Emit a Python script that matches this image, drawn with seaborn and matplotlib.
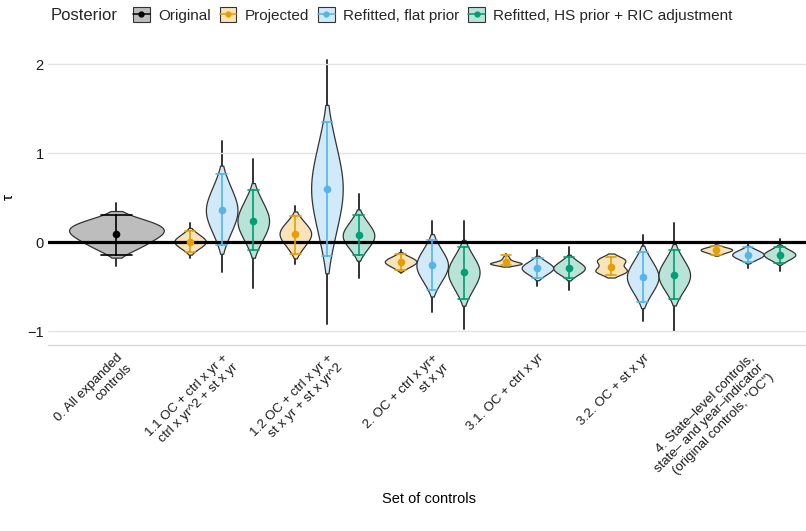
import numpy as np
import pandas as pd
import matplotlib
matplotlib.use("Agg")
import matplotlib.pyplot as plt
import matplotlib.colors as mcolors
import seaborn as sns
from matplotlib.patches import Patch
from matplotlib.lines import Line2D
from matplotlib.legend_handler import HandlerTuple

# ---------------- data ----------------
categories = [
    "0. All expanded\ncontrols",
    "1.1 OC + ctrl x yr +\nctrl x yr^2 + st x yr",
    "1.2 OC + ctrl x yr +\nst x yr + st x yr^2",
    "2. OC + ctrl x yr+\nst x yr",
    "3.1. OC + ctrl x yr",
    "3.2. OC + st x yr",
    "4. State\u2013level controls,\nstate\u2013 and year\u2013indicator\n(original controls, \"OC\")",
]
posteriors = ["Original", "Projected", "Refitted, flat prior",
              "Refitted, HS prior + RIC adjustment"]

# one entry per violin
violin_category = [0, 1, 1, 1, 2, 2, 2, 3, 3, 3, 4, 4, 4, 5, 5, 5, 6, 6, 6]
violin_posterior = [0, 1, 2, 3, 1, 2, 3, 1, 2, 3, 1, 2, 3, 1, 2, 3, 1, 2, 3]

point_est = [0.09, 0.007, 0.36, 0.24, 0.09, 0.60, 0.075, -0.22, -0.26, -0.34,
             -0.225, -0.29, -0.29, -0.28, -0.39, -0.37, -0.087, -0.14, -0.14]
interval_lo = [-0.15, -0.11, -0.03, -0.09, -0.13, -0.16, -0.15, -0.31, -0.54, -0.64,
               -0.255, -0.40, -0.40, -0.37, -0.67, -0.64, -0.14, -0.22, -0.23]
interval_hi = [0.30, 0.13, 0.76, 0.58, 0.29, 1.35, 0.31, -0.135, 0.02, -0.05,
               -0.15, -0.18, -0.17, -0.17, -0.11, -0.09, -0.04, -0.06, -0.05]
tail_lo = [-0.27, -0.18, -0.34, -0.52, -0.25, -0.92, -0.40, -0.35, -0.79, -0.97,
           -0.27, -0.49, -0.54, -0.39, -0.88, -1.00, -0.15, -0.29, -0.32]
tail_hi = [0.44, 0.21, 1.14, 0.93, 0.41, 2.04, 0.54, -0.09, 0.24, 0.24,
           -0.135, -0.09, -0.06, -0.14, 0.08, 0.22, -0.03, 0.007, 0.04]

posterior_quantiles = [
    [-0.085, -0.025, 0.025, 0.065, 0.095, 0.125, 0.155, 0.185, 0.215, 0.26],
    [-0.091, -0.055, -0.033, -0.016, 0.0, 0.015, 0.031, 0.049, 0.072, 0.110],
    [0.033, 0.154, 0.226, 0.284, 0.335, 0.386, 0.438, 0.498, 0.572, 0.696],
    [-0.037, 0.065, 0.126, 0.175, 0.219, 0.262, 0.307, 0.357, 0.420, 0.525],
    [-0.095, -0.026, 0.014, 0.047, 0.076, 0.103, 0.129, 0.159, 0.196, 0.258],
    [-0.038, 0.198, 0.339, 0.451, 0.551, 0.648, 0.747, 0.858, 0.997, 1.229],
    [-0.114, -0.044, -0.002, 0.031, 0.061, 0.090, 0.121, 0.156, 0.199, 0.272],
    [-0.296, -0.268, -0.251, -0.238, -0.226, -0.215, -0.203, -0.191, -0.175, -0.149],
    [-0.495, -0.408, -0.356, -0.315, -0.278, -0.242, -0.205, -0.164, -0.112, -0.025],
    [-0.592, -0.499, -0.443, -0.399, -0.359, -0.321, -0.283, -0.240, -0.187, -0.097],
    [-0.252, -0.248, -0.245, -0.242, -0.239, -0.235, -0.228, -0.215, -0.195, -0.165],
    [-0.382, -0.348, -0.328, -0.312, -0.297, -0.283, -0.268, -0.252, -0.232, -0.198],
    [-0.382, -0.348, -0.328, -0.312, -0.297, -0.282, -0.266, -0.249, -0.227, -0.189],
    [-0.345, -0.335, -0.325, -0.315, -0.300, -0.250, -0.215, -0.205, -0.195, -0.180],
    [-0.625, -0.538, -0.486, -0.445, -0.408, -0.372, -0.335, -0.294, -0.242, -0.155],
    [-0.597, -0.513, -0.463, -0.423, -0.387, -0.352, -0.315, -0.274, -0.222, -0.135],
    [-0.131, -0.115, -0.105, -0.097, -0.090, -0.084, -0.078, -0.071, -0.062, -0.047],
    [-0.207, -0.182, -0.168, -0.156, -0.145, -0.135, -0.124, -0.112, -0.098, -0.073],
    [-0.216, -0.188, -0.171, -0.158, -0.146, -0.134, -0.122, -0.109, -0.092, -0.064],
]

x_title = "Set of controls"
y_title = "\u03c4"
legend_title = "Posterior"

# ---------------- styling ----------------
line_colors = ["#000000", "#E69F00", "#56B4E9", "#009E73"]


def lighten(c, a=0.28):
    r, g, b = mcolors.to_rgb(c)
    return (1 - a + a * r, 1 - a + a * g, 1 - a + a * b)


fill_colors = [lighten(c) for c in line_colors]
fill_colors[0] = (0.74, 0.74, 0.74)
edge = "#333333"

# ---------------- long tables ----------------
draw_rows, int_rows, tail_rows = [], [], []
for i in range(len(violin_category)):
    cat = categories[violin_category[i]]
    post = posteriors[violin_posterior[i]]
    for v in posterior_quantiles[i]:
        draw_rows.append((cat, post, v))
    for v in (interval_lo[i], point_est[i], interval_hi[i]):
        int_rows.append((cat, post, v))
    for v in (tail_lo[i], tail_hi[i]):
        tail_rows.append((cat, post, v))
cols = ["category", "posterior", "value"]
draws = pd.DataFrame(draw_rows, columns=cols)
ints = pd.DataFrame(int_rows, columns=cols)
tails = pd.DataFrame(tail_rows, columns=cols)

orig = posteriors[0]
others = posteriors[1:]

sns.set_theme(style="white")
plt.rcParams["font.family"] = ["Liberation Sans", "DejaVu Sans"]

fig = plt.figure(figsize=(8.06, 5.31), dpi=100)
W, H = 806, 531
ax = fig.add_axes([48 / W, 1 - 345 / H, (809 - 48) / W, (345 - 48) / H])

minmax = lambda v: (v.min(), v.max())

# tails (thin dark lines beneath violins)
sns.pointplot(data=tails[tails.posterior == orig], x="category", y="value",
              order=categories, color=edge, estimator="median", errorbar=minmax,
              markers="", linestyle="none", err_kws={"linewidth": 1.4, "zorder": 0.5},
              ax=ax)
sns.pointplot(data=tails[tails.posterior != orig], x="category", y="value",
              hue="posterior", hue_order=others, order=categories,
              palette=[edge] * 3, estimator="median", errorbar=minmax,
              dodge=0.6, markers="", linestyle="none",
              err_kws={"linewidth": 1.4, "zorder": 0.5}, legend=False, ax=ax)

# violins
sns.violinplot(data=draws[draws.posterior == orig], x="category", y="value",
               order=categories, color=fill_colors[0], saturation=1,
               width=0.9, density_norm="width", inner=None, cut=1.3, bw_adjust=1.0,
               linecolor=edge, linewidth=0.9, ax=ax)
sns.violinplot(data=draws[draws.posterior != orig], x="category", y="value",
               hue="posterior", hue_order=others, order=categories,
               palette=fill_colors[1:], saturation=1, width=0.9, dodge=True,
               density_norm="width", inner=None, cut=1.3, bw_adjust=1.0,
               linecolor=edge, linewidth=0.9, legend=False, ax=ax)
for coll in ax.collections:
    coll.set_zorder(1)

ax.axhline(0, color="black", linewidth=2.3, zorder=2)

# point + interval
sns.pointplot(data=ints[ints.posterior == orig], x="category", y="value",
              order=categories, color=line_colors[0], estimator="median",
              errorbar=minmax, markers="o", linestyle="none", capsize=0.29,
              markersize=5.5, markeredgewidth=0,
              err_kws={"linewidth": 1.2, "zorder": 3}, zorder=4, ax=ax)
sns.pointplot(data=ints[ints.posterior != orig], x="category", y="value",
              hue="posterior", hue_order=others, order=categories,
              palette=line_colors[1:], estimator="median", errorbar=minmax,
              dodge=0.6, markers="o", linestyle="none", capsize=0.1,
              markersize=5.5, markeredgewidth=0,
              err_kws={"linewidth": 1.2, "zorder": 3},
              zorder=4, legend=False, ax=ax)

# ---------------- axes cosmetics ----------------
ax.set_xlim(-0.65, 6.58)
ax.set_ylim(-1.155, 2.18)
ax.set_yticks([-1, 0, 1, 2])
ax.set_yticklabels(["\u22121", "0", "1", "2"])
ax.set_xticks(range(len(categories)))
ax.set_xticklabels(categories, rotation=45, ha="right", va="top",
                   rotation_mode="anchor", fontsize=9.5, color="#1a1a1a")
ax.tick_params(axis="x", length=3, color="#d9d9d9", width=1, pad=2)
ax.tick_params(axis="y", length=0, pad=3, labelsize=10.5, labelcolor="#1a1a1a")
ax.grid(axis="y", color="#e3e3e3", linewidth=1)
ax.grid(axis="x", visible=False)
ax.set_axisbelow(True)
for s in ["left", "right", "top"]:
    ax.spines[s].set_visible(False)
ax.spines["bottom"].set_color("#d9d9d9")
ax.spines["bottom"].set_linewidth(1)
ax.set_xlabel(x_title, fontsize=10.5, labelpad=5, color="black")
ax.set_ylabel(y_title, fontsize=11, rotation=90, labelpad=8, color="black")

# ---------------- legend ----------------
handles = []
for fc, lc in zip(fill_colors, line_colors):
    handles.append((Patch(facecolor=fc, edgecolor=edge, linewidth=0.8),
                    Line2D([], [], color=lc, marker="o", markersize=3.5, linewidth=1.1)))
fig.text(51 / W, 1 - 15 / H, legend_title, fontsize=12, va="center", ha="left")
fig.legend(handles, posteriors, handler_map={tuple: HandlerTuple(ndivide=1, pad=0)},
           loc="center left", bbox_to_anchor=(133 / W, 1 - 15 / H), ncol=4,
           frameon=False, fontsize=11, handlelength=1.08, handleheight=1.08,
           handletextpad=0.55, columnspacing=0.6, borderpad=0, borderaxespad=0)

fig.savefig("out.png", dpi=100)
